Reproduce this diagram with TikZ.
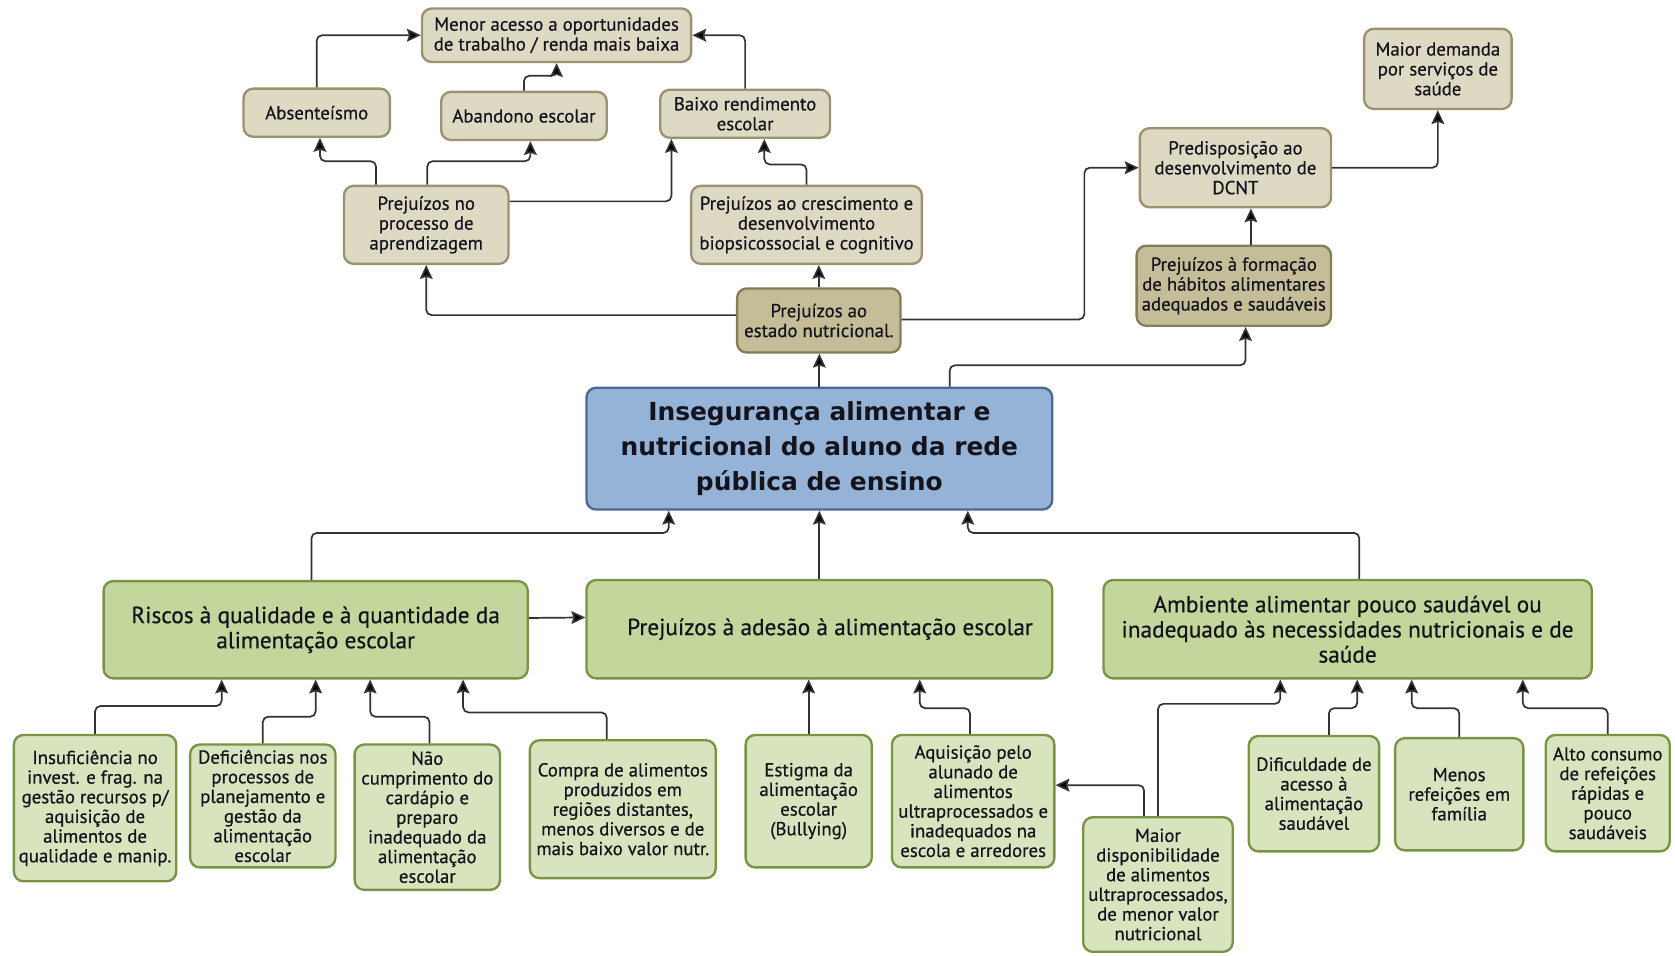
\documentclass[tikz,border=0pt]{standalone}
\usepackage{fontspec}
\setmainfont{PT Sans}[FakeBold=0.5]
\newfontfamily\titlefont{DejaVu Sans}
\usetikzlibrary{arrows.meta}
\definecolor{tanfill}{HTML}{DDD9C3}
\definecolor{tanline}{HTML}{9A9270}
\definecolor{dtanfill}{HTML}{C4BD97}
\definecolor{dtanline}{HTML}{857C58}
\definecolor{bluefill}{HTML}{95B3D7}
\definecolor{blueline}{HTML}{4A6A93}
\definecolor{gfill}{HTML}{C3D69B}
\definecolor{lgfill}{HTML}{D7E4BD}
\definecolor{gline}{HTML}{7A9446}
\definecolor{conncol}{HTML}{333333}
\definecolor{txtcol}{HTML}{14141E}
\begin{document}
\begin{tikzpicture}[x=1pt,y=-1pt,
  basebox/.style={draw, line width=2.2pt, rounded corners=9pt, align=center, inner sep=1pt, text=txtcol},
  tanbox/.style={basebox, fill=tanfill, draw=tanline, font=\fontsize{17.6}{18.6}\selectfont},
  dtanbox/.style={basebox, fill=dtanfill, draw=dtanline, font=\fontsize{17.6}{18.6}\selectfont},
  centralbox/.style={basebox, fill=bluefill, draw=blueline, font=\titlefont\bfseries\fontsize{23.3}{32.5}\selectfont},
  midbox/.style={basebox, fill=gfill, draw=gline, font=\fontsize{21.8}{23.5}\selectfont},
  lowbox/.style={basebox, fill=lgfill, draw=gline, font=\fontsize{17.6}{18.4}\selectfont},
  sz/.style 2 args={minimum width=#1pt, minimum height=#2pt},
  conn/.style={draw=conncol, line width=1.6pt, rounded corners=5pt,
    -{Stealth[length=13pt,width=12pt,inset=2pt,fill=black]}}
]
\useasboundingbox (0,0) rectangle (1568,894);

% top region
\node[tanbox, sz={252}{50}] (M) at (521,33) {Menor acesso a oportunidades\\de trabalho / renda mais baixa};
\node[tanbox, sz={137}{45}] (Abs) at (296.5,105.5) {Absenteísmo};
\node[tanbox, sz={155}{45}] (Aban) at (490.5,108.5) {Abandono escolar};
\node[tanbox, sz={159}{45}] (Baixo) at (697.5,106.5) {Baixo rendimento\\escolar};
\node[tanbox, sz={154}{73}] (PNP) at (399,210.5) {Prejuízos no\\processo de\\aprendizagem};
\node[tanbox, sz={216}{73}] (PCD) at (755,210.5) {Prejuízos ao crescimento e\\desenvolvimento\\biopsicossocial e cognitivo};
\node[dtanbox, sz={153}{60}] (PEN) at (766.5,300) {Prejuízos ao\\estado nutricional.};
\node[tanbox, sz={179}{74}] (PD) at (1156.5,157) {Predisposição ao\\desenvolvimento de\\DCNT};
\node[tanbox, sz={138}{75}] (MD) at (1346,64.5) {Maior demanda\\por serviços de\\saúde};
\node[dtanbox, sz={182}{75}] (PF) at (1155,267.5) {Prejuízos à formação\\de hábitos alimentares\\adequados e saudáveis};

% central
\node[centralbox, sz={436}{114}] (C) at (767,420) {Insegurança alimentar e\\nutricional do aluno da rede\\pública de ensino};

% middle row
\node[midbox, sz={397}{91}] (R) at (295.5,589.5) {Riscos à qualidade e à quantidade da\\alimentação escolar};
\node[midbox, sz={436}{92}] (PA) at (767,589) {\hspace*{20pt}Prejuízos à adesão à alimentação escolar};
\node[midbox, sz={457}{92}] (AA) at (1261.5,589) {Ambiente alimentar pouco saudável ou\\inadequado às necessidades nutricionais e de\\saúde};

% bottom row
\node[lowbox, sz={152}{137}] (B1) at (89,756.5) {Insuficiência no\\invest. e frag. na\\gestão recursos p/\\aquisição de\\alimentos de\\qualidade e manip.};
\node[lowbox, sz={136}{115}] (B2) at (246,754.5) {Deficiências nos\\processos de\\planejamento e\\gestão da\\alimentação\\escolar};
\node[lowbox, sz={136}{136}] (B3) at (400,765) {Não\\cumprimento do\\cardápio e\\preparo\\inadequado da\\alimentação\\escolar};
\node[lowbox, sz={174}{129}] (B4) at (583,757.5) {Compra de alimentos\\produzidos em\\regiões distantes,\\menos diversos e de\\mais baixo valor nutr.};
\node[lowbox, sz={118}{124}] (B5) at (757,750) {Estigma da\\alimentação\\escolar\\(Bullying)};
\node[lowbox, sz={152}{124}] (B6) at (911,750) {Aquisição pelo\\alunado de\\alimentos\\ultraprocessados e\\inadequados na\\escola e arredores};
\node[lowbox, sz={140}{126}] (B7) at (1084,828) {Maior\\disponibilidade\\de alimentos\\ultraprocessados,\\de menor valor\\nutricional};
\node[lowbox, sz={122}{108}] (B8) at (1230,743) {Dificuldade de\\acesso à\\alimentação\\saudável};
\node[lowbox, sz={120}{105}] (B9) at (1366,743.5) {Menos\\refeições em\\família};
\node[lowbox, sz={116}{109}] (B10) at (1505,742.5) {Alto consumo\\de refeições\\rápidas e\\pouco\\saudáveis};

% connectors: top
\draw[conn] (Abs.north) |- (M.west);
\draw[conn] (Aban.north) -- ++(0,-14) -| (M.south);
\draw[conn] (Baixo.north) |- (M.east);
\draw[conn] ([xshift=-47pt]PNP.north) -- ++(0,-22) -| ([xshift=3pt]Abs.south);
\draw[conn] ([xshift=1pt]PNP.north) -- ++(0,-22) -| ([xshift=6pt]Aban.south);
\draw[conn] ([yshift=22pt]PNP.east) -| ([xshift=-69pt]Baixo.south);
\draw[conn] (PCD.north) -- ++(0,-19) -| ([xshift=18pt]Baixo.south);
\draw[conn] (PEN.north) -- (PEN.north |- PCD.south);
\draw[conn] ([yshift=5pt]PEN.west) -| (PNP.south);
\draw[conn] ([yshift=1pt]PEN.east) -- ++(171,0) |- (PD.west);
\draw[conn] (PD.east) -| (MD.south);
\draw[conn] ([xshift=16pt]PF.north) -- ([xshift=16pt]PF.north |- PD.south);
\draw[conn] (C.north) -- (C.north |- PEN.south);
\draw[conn] ([xshift=122pt]C.north) -- ++(0,-20) -| ([xshift=11pt]PF.south);

% connectors: middle
\draw[conn] ([xshift=-4pt]R.north) -- ++(0,-44) -| ([xshift=-141pt]C.south);
\draw[conn] (PA.north) -- (C.south);
\draw[conn] ([xshift=11pt]AA.north) -- ++(0,-43) -| ([xshift=139pt]C.south);
\draw[conn] ([yshift=11pt]R.east) -- ([yshift=11pt]PA.west);

% connectors: bottom
\draw[conn] (B1.north) -- ++(0,-26) -| ([xshift=-88pt]R.south);
\draw[conn] (B2.north) -- ++(0,-25) -| (R.south);
\draw[conn] ([xshift=2pt]B3.north) -- ++(0,-25) -| ([xshift=51pt]R.south);
\draw[conn] ([xshift=-15pt]B4.north) -- ++(0,-25) -| ([xshift=138pt]R.south);
\draw[conn] (B5.north) -- (B5.north |- PA.south);
\draw[conn] ([xshift=-3pt]B6.north) -- ++(0,-24) -| ([xshift=94pt]PA.south);
\draw[conn] ([xshift=-13pt]B7.north) |- ([yshift=15pt]B6.east);
\draw[conn] (B7.north) -- ++(0,-105) -| ([xshift=-63pt]AA.south);
\draw[conn] ([xshift=14pt]B8.north) -- ++(0,-25) -| ([xshift=9pt]AA.south);
\draw[conn] (B9.north) -- ++(0,-27) -| ([xshift=60pt]AA.south);
\draw[conn] (B10.north) -- ++(0,-24) -| ([xshift=164pt]AA.south);
\end{tikzpicture}
\end{document}
